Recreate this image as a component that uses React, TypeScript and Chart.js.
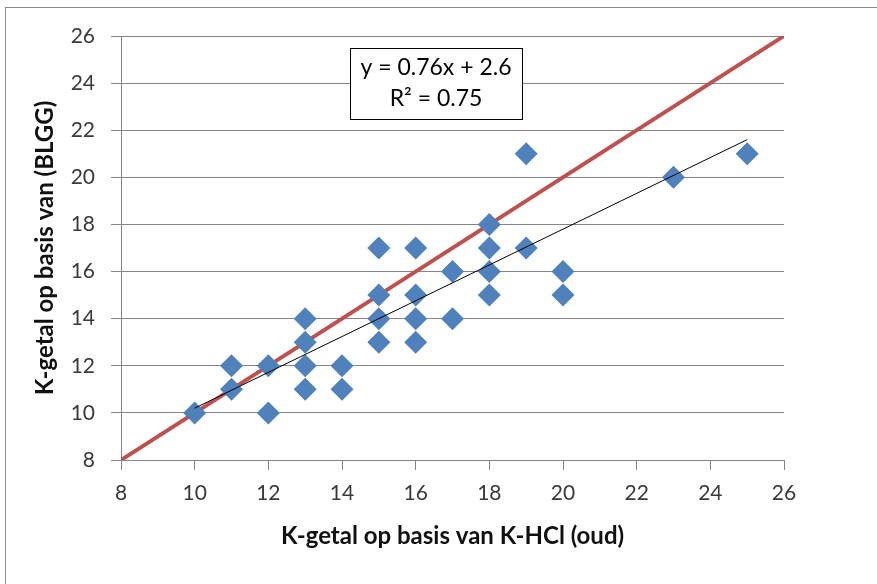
import { useEffect, useRef } from "react";
import { Chart, registerables } from "chart.js";

Chart.register(...registerables);

// Measured points: K-getal op basis van K-HCl (oud) vs K-getal op basis van (BLGG)
const measuredX = [10, 11, 11, 12, 12, 13, 13, 13, 13, 14, 14, 15, 15, 15, 15, 16, 16, 16, 16, 17, 17, 18, 18, 18, 18, 19, 19, 20, 20, 23, 25];
const measuredY = [10, 12, 11, 12, 10, 14, 13, 12, 11, 12, 11, 17, 15, 14, 13, 17, 15, 14, 13, 16, 14, 18, 17, 16, 15, 21, 17, 16, 15, 20, 21];

// 1:1 line
const identityX = [8, 26];
const identityY = [8, 26];

// Linear trend line endpoints (y = 0.76x + 2.6)
const trendX = [10, 25];
const trendY = [10.2, 21.6];

const axisMin = 8;
const axisMax = 26;
const axisStep = 2;

const xTitle = "K-getal op basis van K-HCl (oud)";
const yTitle = "K-getal op basis van (BLGG)";
const equationLines = ["y = 0.76x + 2.6", "R\u00B2 = 0.75"];

const FONT = "Lato, 'Open Sans', sans-serif";
const GRID = "#868686";

const W = 877;
const H = 584;

const framePlugin = {
  id: "frame",
  beforeDraw(chart: any) {
    const ctx = chart.ctx;
    ctx.save();
    ctx.fillStyle = "#ffffff";
    ctx.fillRect(0, 0, chart.width, chart.height);
    ctx.strokeStyle = "#8c8c8c";
    ctx.lineWidth = 1;
    ctx.strokeRect(5.5, 7.5, chart.width + 20, chart.height + 20);
    ctx.restore();
  },
};

const equationPlugin = {
  id: "equationBox",
  afterDraw(chart: any) {
    const { ctx, chartArea } = chart;
    const left = chartArea.left + 229;
    const top = chartArea.top + 12;
    const w = 172;
    const h = 71;
    ctx.save();
    ctx.fillStyle = "#ffffff";
    ctx.fillRect(left, top, w, h);
    ctx.strokeStyle = "#000000";
    ctx.lineWidth = 1;
    ctx.strokeRect(left + 0.5, top + 0.5, w, h);
    ctx.fillStyle = "#000000";
    ctx.font = `23px ${FONT}`;
    ctx.textAlign = "center";
    ctx.textBaseline = "middle";
    ctx.fillText(equationLines[0], left + w / 2, top + 20);
    ctx.fillText(equationLines[1], left + w / 2, top + 51);
    ctx.restore();
  },
};

export default function App() {
  const ref = useRef<HTMLCanvasElement>(null);

  useEffect(() => {
    if (!ref.current) return;
    const chart = new Chart(ref.current, {
      type: "scatter",
      data: {
        datasets: [
          {
            type: "line",
            label: "1:1",
            data: identityX.map((x, i) => ({ x, y: identityY[i] })),
            borderColor: "#C0504D",
            borderWidth: 4,
            pointRadius: 0,
            fill: false,
            order: 3,
          } as any,
          {
            label: "K-getal",
            data: measuredX.map((x, i) => ({ x, y: measuredY[i] })),
            backgroundColor: "#4F81BD",
            borderColor: "#4F81BD",
            borderWidth: 0,
            pointStyle: "rectRot",
            pointRadius: 11.5,
            order: 2,
          },
          {
            type: "line",
            label: "Trend",
            data: trendX.map((x, i) => ({ x, y: trendY[i] })),
            borderColor: "#000000",
            borderWidth: 1,
            pointRadius: 0,
            fill: false,
            order: 1,
          } as any,
        ],
      },
      options: {
        animation: false,
        responsive: false,
        layout: { padding: { left: 0, top: 36, right: 93, bottom: 0 } },
        plugins: {
          legend: { display: false },
          tooltip: { enabled: false },
        },
        scales: {
          x: {
            type: "linear",
            min: axisMin,
            max: axisMax,
            ticks: {
              stepSize: axisStep,
              color: "#3a3a3a",
              font: { family: FONT, size: 21 },
              padding: 11,
            },
            grid: {
              drawOnChartArea: false,
              drawTicks: true,
              tickLength: 10,
              color: GRID,
            },
            border: { color: GRID, width: 1 },
            title: {
              display: true,
              text: xTitle,
              color: "#111111",
              font: { family: FONT, size: 24, weight: "bold" },
              padding: { top: 0, bottom: 33 },
            },
            afterFit(scale: any) {
              scale.height = 124;
              scale.paddingLeft = 0;
              scale.paddingRight = 0;
            },
          },
          y: {
            type: "linear",
            min: axisMin,
            max: axisMax,
            ticks: {
              stepSize: axisStep,
              color: "#3a3a3a",
              font: { family: FONT, size: 21 },
              padding: 16,
            },
            grid: {
              drawOnChartArea: true,
              drawTicks: true,
              tickLength: 10,
              color: GRID,
            },
            border: { color: GRID, width: 1 },
            title: {
              display: true,
              text: yTitle,
              color: "#111111",
              font: { family: FONT, size: 24, weight: "bold" },
              padding: { top: 31, bottom: 0 },
            },
            afterFit(scale: any) {
              scale.width = 121;
              scale.paddingTop = 0;
              scale.paddingBottom = 0;
            },
          },
        },
      },
      plugins: [framePlugin, equationPlugin],
    });
    return () => chart.destroy();
  }, []);

  return (
    <div style={{ position: "absolute", left: 0, top: 0, width: W, height: H, background: "#fff" }}>
      <canvas ref={ref} width={W} height={H} style={{ width: W, height: H, display: "block" }} />
    </div>
  );
}
